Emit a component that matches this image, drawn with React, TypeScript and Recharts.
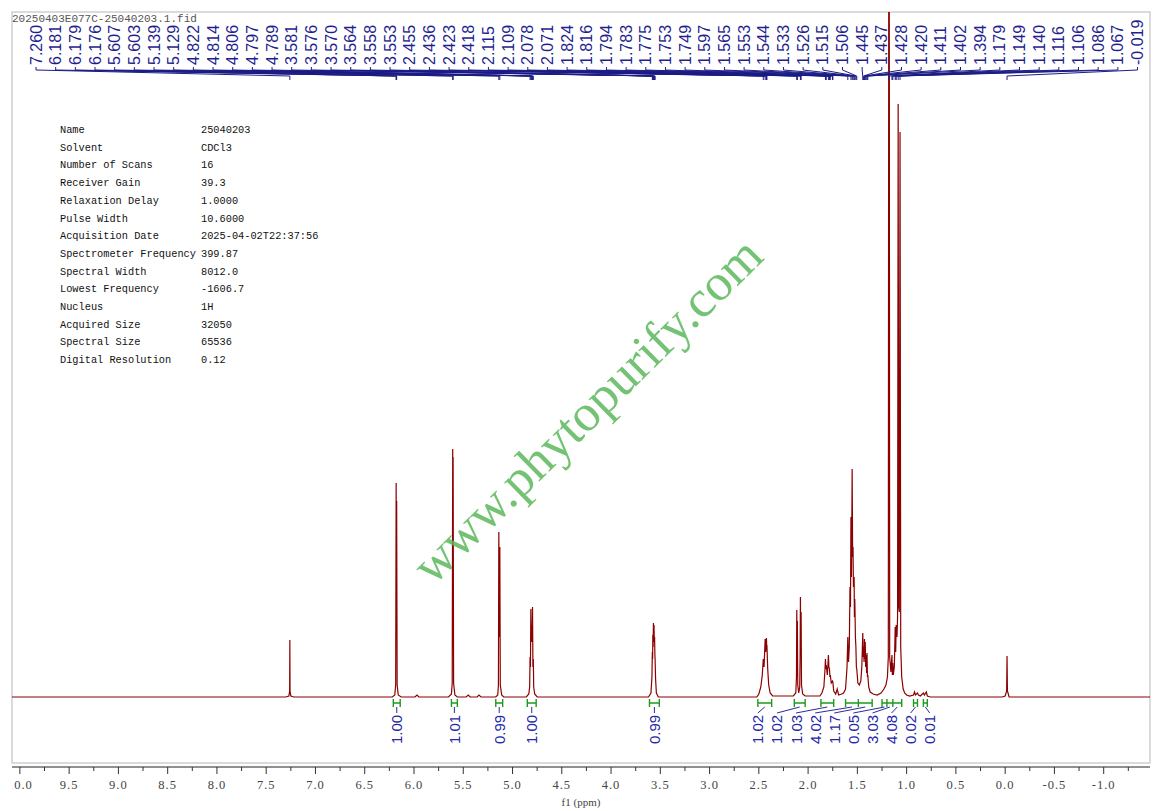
import React from "react";
import { ComposedChart, Line, Scatter, XAxis, YAxis, ReferenceArea } from "recharts";

// 1H spectrum: [ppm, intensity above baseline]
const spectrum: [number, number][] = [
  [10.08, 0], [7.3, 0], [7.27, 1], [7.262, 6], [7.26, 57], [7.258, 6], [7.25, 1], [7.22, 0],
  [6.22, 0], [6.195, 2], [6.186, 12], [6.181, 214], [6.179, 120], [6.176, 196], [6.171, 12], [6.16, 2], [6.13, 0],
  [5.99, 0], [5.97, 2], [5.95, 0],
  [5.65, 0], [5.62, 3], [5.612, 14], [5.607, 248], [5.605, 150], [5.603, 240], [5.598, 14], [5.585, 2], [5.56, 0],
  [5.47, 0], [5.45, 2], [5.43, 0], [5.36, 0], [5.34, 2], [5.32, 0],
  [5.17, 0], [5.15, 2], [5.143, 12], [5.139, 165], [5.134, 60], [5.129, 150], [5.124, 12], [5.11, 2], [5.09, 0],
  [4.86, 0], [4.835, 3], [4.826, 10], [4.822, 40], [4.818, 30], [4.814, 88], [4.81, 55], [4.806, 72],
  [4.801, 55], [4.797, 90], [4.793, 30], [4.789, 38], [4.785, 10], [4.775, 3], [4.75, 0],
  [3.62, 0], [3.595, 4], [3.585, 20], [3.581, 45], [3.578, 38], [3.576, 62], [3.573, 50], [3.57, 74],
  [3.567, 62], [3.564, 72], [3.561, 55], [3.558, 60], [3.555, 42], [3.553, 38], [3.548, 18], [3.54, 4], [3.52, 0],
  [2.52, 0], [2.5, 3], [2.48, 10], [2.465, 22], [2.455, 38], [2.447, 30], [2.436, 58], [2.43, 45],
  [2.423, 59], [2.42, 50], [2.418, 52], [2.41, 28], [2.4, 12], [2.385, 4], [2.36, 1],
  [2.15, 1], [2.125, 4], [2.118, 20], [2.115, 87], [2.112, 40], [2.109, 76], [2.105, 12], [2.095, 4],
  [2.085, 10], [2.081, 40], [2.078, 100], [2.075, 45], [2.071, 85], [2.067, 12], [2.055, 3], [2.03, 1],
  [1.88, 1], [1.86, 4], [1.84, 10], [1.83, 25], [1.824, 38], [1.82, 28], [1.816, 32], [1.805, 22],
  [1.8, 30], [1.794, 42], [1.789, 30], [1.783, 28], [1.779, 20], [1.775, 22], [1.765, 14], [1.753, 16],
  [1.749, 15], [1.74, 6], [1.72, 3], [1.705, 8], [1.69, 2], [1.66, 3],
  [1.64, 4], [1.62, 8], [1.605, 30], [1.597, 60], [1.59, 35], [1.582, 50], [1.575, 110], [1.57, 90],
  [1.565, 180], [1.56, 120], [1.553, 228], [1.548, 140], [1.544, 150], [1.54, 110], [1.533, 120],
  [1.53, 80], [1.526, 98], [1.52, 60], [1.515, 50], [1.51, 30], [1.506, 28], [1.495, 14], [1.48, 12],
  [1.465, 16], [1.455, 30], [1.445, 64], [1.441, 40], [1.437, 50], [1.432, 35], [1.428, 58], [1.424, 38],
  [1.42, 55], [1.416, 30], [1.411, 42], [1.406, 24], [1.402, 44], [1.398, 20], [1.394, 22], [1.385, 10],
  [1.37, 5], [1.34, 3], [1.3, 2], [1.26, 4], [1.23, 8], [1.21, 12], [1.195, 20], [1.186, 40],
  [1.179, 1150], [1.172, 40], [1.16, 25], [1.149, 42], [1.145, 22], [1.14, 34], [1.135, 22], [1.125, 30],
  [1.116, 70], [1.111, 45], [1.106, 72], [1.098, 60], [1.092, 80], [1.086, 593], [1.08, 90], [1.074, 85],
  [1.067, 565], [1.06, 50], [1.05, 20], [1.035, 8], [1.02, 4], [1.0, 2], [0.97, 1],
  [0.93, 2], [0.92, 5], [0.91, 2], [0.89, 4], [0.88, 2], [0.86, 1], [0.83, 4], [0.82, 2], [0.8, 5], [0.79, 1], [0.76, 0],
  [0.03, 0], [0.0, 1], [-0.015, 6], [-0.019, 41], [-0.023, 6], [-0.04, 0], [-1.47, 0],
];

const peakLabels = [
  7.26, 6.181, 6.179, 6.176, 5.607, 5.603, 5.139, 5.129, 4.822, 4.814, 4.806, 4.797, 4.789,
  3.581, 3.576, 3.57, 3.564, 3.558, 3.553, 2.455, 2.436, 2.423, 2.418, 2.115, 2.109, 2.078, 2.071,
  1.824, 1.816, 1.794, 1.783, 1.775, 1.753, 1.749, 1.597, 1.565, 1.553, 1.544, 1.533, 1.526, 1.515,
  1.506, 1.445, 1.437, 1.428, 1.42, 1.411, 1.402, 1.394, 1.179, 1.149, 1.14, 1.116, 1.106, 1.086,
  1.067, -0.019,
];

const integralRanges: [number, number][] = [
  [6.21, 6.14], [5.62, 5.56], [5.17, 5.1], [4.85, 4.76], [3.61, 3.51],
  [2.51, 2.37], [2.14, 2.03], [1.87, 1.74], [1.62, 1.49], [1.49, 1.35],
  [1.25, 1.2], [1.2, 1.14], [1.14, 1.05], [0.93, 0.89], [0.83, 0.79],
];
const integralValues = [
  "1.00", "1.01", "0.99", "1.00", "0.99",
  "1.02", "1.02", "1.03", "4.02", "1.17",
  "0.05", "3.03", "4.08", "0.02", "0.01",
];

const majorTicks = [10.0, 9.5, 9.0, 8.5, 8.0, 7.5, 7.0, 6.5, 6.0, 5.5, 5.0, 4.5, 4.0, 3.5, 3.0, 2.5, 2.0, 1.5, 1.0, 0.5, 0.0, -0.5, -1.0];
const minorTicks = [9.75, 9.25, 8.75, 8.25, 7.75, 7.25, 6.75, 6.25, 5.75, 5.25, 4.75, 4.25, 3.75, 3.25, 2.75, 2.25, 1.75, 1.25, 0.75, 0.25, -0.25, -0.75, -1.25];

const paramNames = [
  "Name", "Solvent", "Number of Scans", "Receiver Gain", "Relaxation Delay", "Pulse Width",
  "Acquisition Date", "Spectrometer Frequency", "Spectral Width", "Lowest Frequency", "Nucleus",
  "Acquired Size", "Spectral Size", "Digital Resolution",
];
const paramValues = [
  "25040203", "CDCl3", "16", "39.3", "1.0000", "10.6000", "2025-04-02T22:37:56", "399.87",
  "8012.0", "-1606.7", "1H", "32050", "65536", "0.12",
];

// layout
const W = 1159;
const H = 811;
const M = { top: 12, right: 9, left: 12, bottom: 0 };
const AXIS_H = 44;
const X_MIN = -1.47;
const X_MAX = 10.08;
const Y_MIN = -70;
const Y_MAX = 685;
const plotW = W - M.left - M.right;
const ppmPerPx = (X_MAX - X_MIN) / plotW;
const pxToPpm = (px: number) => X_MAX - (px - M.left) * ppmPerPx;
const ppmToPx = (ppm: number) => M.left + (X_MAX - ppm) / ppmPerPx;

const LABEL_X0 = 36;
const LABEL_STEP = 19.67;
const FAN_FROM = 5; // integrals from this index are fanned out
const FAN_STEP = 19.1;

const peakLabelData = peakLabels.map((p, i) => ({
  ppm: pxToPpm(LABEL_X0 + LABEL_STEP * i),
  v: 632,
  text: p.toFixed(3),
}));

const connectorData = peakLabels.flatMap((p, i) => {
  const lx = peakLabelData[i].ppm;
  return [
    { ppm: lx, v: 630 },
    { ppm: lx, v: 627 },
    { ppm: p, v: 621 },
    { ppm: p, v: 617 },
    { ppm: p, v: null },
  ];
});

const bracketData = integralRanges.flatMap(([a, b]) => [
  { ppm: a, v: -2 }, { ppm: a, v: -10 }, { ppm: a, v: -6 },
  { ppm: b, v: -6 }, { ppm: b, v: -2 }, { ppm: b, v: -10 }, { ppm: b, v: null },
]);

const integralLabelPpm = integralRanges.map(([a, b], i) => {
  if (i < FAN_FROM) return (a + b) / 2;
  return pxToPpm(ppmToPx(integralRanges[FAN_FROM][0]) + FAN_STEP * (i - FAN_FROM));
});

const leaderData = integralRanges.flatMap(([a, b], i) => [
  { ppm: (a + b) / 2, v: -10 },
  { ppm: integralLabelPpm[i], v: -16 },
  { ppm: integralLabelPpm[i], v: null },
]);

const integralLabelData = integralValues.map((t, i) => ({ ppm: integralLabelPpm[i], v: -47, text: t }));

const spectrumData = spectrum.map(([ppm, v]) => ({ ppm, v }));

const RotLabel = (color: string, size: number) => (props: any) => {
  const { cx, cy, payload } = props;
  if (cx == null || cy == null) return <g />;
  return (
    <text
      x={cx}
      y={cy}
      transform={`rotate(-90 ${cx} ${cy})`}
      fill={color}
      fontSize={size}
      fontFamily="'Liberation Sans', Arial, sans-serif"
      dominantBaseline="central"
      textAnchor="start"
    >
      {payload.text}
    </text>
  );
};

const AxisTick = (props: any) => {
  const { x, y, payload, index } = props;
  const val = payload.value as number;
  const major = majorTicks.includes(val);
  const clipId = `tickclip-${index}`;
  return (
    <g>
      <defs>
        <clipPath id={clipId}>
          <rect x={M.left} y={y} width={plotW} height={AXIS_H} />
        </clipPath>
      </defs>
      <line x1={x} x2={x} y1={y} y2={y + (major ? 7 : 4)} stroke="#333" strokeWidth={1} />
      {major && (
        <text
          x={x}
          y={y + 18}
          textAnchor="middle"
          dominantBaseline="central"
          fontSize={12.5}
          letterSpacing={1}
          fill="#444"
          fontFamily="'Liberation Serif', 'DejaVu Serif', serif"
          clipPath={`url(#${clipId})`}
        >
          {val.toFixed(1)}
        </text>
      )}
    </g>
  );
};

export default function App() {
  return (
    <div style={{ position: "relative", width: W, height: H, background: "#fff" }}>
      <style>{`body{margin:0;overflow:hidden}`}</style>
      <ComposedChart width={W} height={H} margin={M}>
        <XAxis
          type="number"
          dataKey="ppm"
          domain={[X_MIN, X_MAX]}
          reversed
          allowDataOverflow
          ticks={[...majorTicks, ...minorTicks]}
          interval={0}
          tick={<AxisTick />}
          tickLine={false}
          tickSize={0}
          tickMargin={0}
          height={AXIS_H}
          axisLine={{ stroke: "#222", strokeWidth: 1.2 }}
          label={{
            value: "f1 (ppm)",
            position: "insideBottom",
            offset: 5,
            fill: "#444",
            fontSize: 11,
            fontFamily: "'Liberation Serif', serif",
          }}
        />
        <YAxis type="number" domain={[Y_MIN, Y_MAX]} allowDataOverflow hide />
        <ReferenceArea x1={X_MAX} x2={X_MIN} y1={-66} y2={Y_MAX} fill="none" stroke="#cfcfcf" strokeWidth={1.5} />
        <Line
          data={spectrumData}
          dataKey="v"
          type="linear"
          stroke="#8b0000"
          strokeWidth={1.2}
          dot={false}
          isAnimationActive={false}
        />
        <Line
          data={connectorData}
          dataKey="v"
          type="linear"
          stroke="#1c1c86"
          strokeWidth={1}
          dot={false}
          connectNulls={false}
          isAnimationActive={false}
        />
        <Scatter data={peakLabelData} dataKey="v" shape={RotLabel("#1f1f8f", 16)} isAnimationActive={false} />
        <Line
          data={bracketData}
          dataKey="v"
          type="linear"
          stroke="#1e9a1e"
          strokeWidth={1.4}
          dot={false}
          connectNulls={false}
          isAnimationActive={false}
        />
        <Line
          data={leaderData}
          dataKey="v"
          type="linear"
          stroke="#2a2aa0"
          strokeWidth={1}
          dot={false}
          connectNulls={false}
          isAnimationActive={false}
        />
        <Scatter data={integralLabelData} dataKey="v" shape={RotLabel("#2626a8", 15)} isAnimationActive={false} />
      </ComposedChart>

      <div
        style={{
          position: "absolute",
          left: 12,
          top: 12,
          fontFamily: "'Liberation Mono', monospace",
          fontSize: 11,
          color: "#555",
          lineHeight: "14px",
        }}
      >
        20250403E077C-25040203.1.fid
      </div>

      <div style={{ position: "absolute", left: 60, top: 122, fontFamily: "'Liberation Mono', monospace", fontSize: 10.3, color: "#111" }}>
        {paramNames.map((n, i) => (
          <div key={n} style={{ position: "absolute", top: i * 17.7, left: 0, whiteSpace: "pre", lineHeight: "17px" }}>
            <span>{n}</span>
            <span style={{ position: "absolute", left: 141 }}>{paramValues[i]}</span>
          </div>
        ))}
      </div>

      <div
        style={{
          position: "absolute",
          left: 587,
          top: 410,
          transform: "translate(-50%, -50%) rotate(-44.6deg)",
          fontFamily: "'Liberation Serif', 'DejaVu Serif', serif",
          fontSize: 52,
          color: "#5cb85c",
          opacity: 0.85,
          whiteSpace: "nowrap",
        }}
      >
        www.phytopurify.com
      </div>
    </div>
  );
}
